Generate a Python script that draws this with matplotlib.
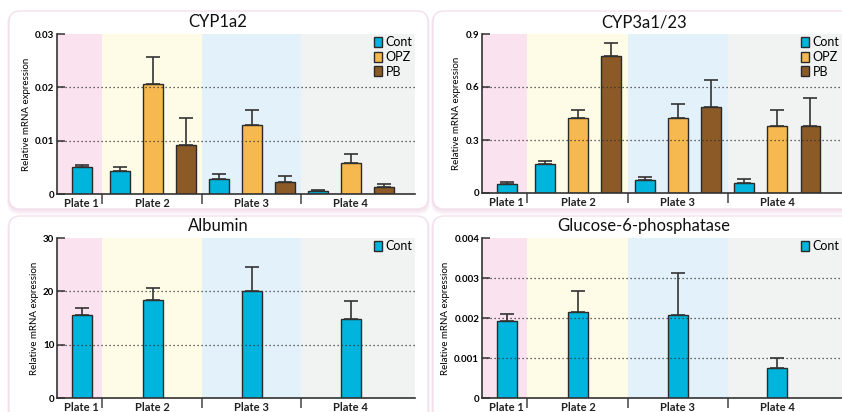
import matplotlib
matplotlib.use("Agg")
import matplotlib.pyplot as plt
from matplotlib.patches import FancyBboxPatch, Patch
import numpy as np

plt.rcParams["font.family"] = ["Lato", "DejaVu Sans"]

# data
plates = ["Plate 1", "Plate 2", "Plate 3", "Plate 4"]

cyp1a2_cont = [0.0050, 0.0043, 0.0029, 0.0006]
cyp1a2_cont_err = [0.0004, 0.0008, 0.0009, 0.0002]
cyp1a2_opz = [0.0206, 0.0130, 0.0059]  # plates 2-4
cyp1a2_opz_err = [0.0051, 0.0028, 0.0016]
cyp1a2_pb = [0.0091, 0.0023, 0.0013]
cyp1a2_pb_err = [0.0051, 0.0011, 0.0006]

cyp3a_cont = [0.053, 0.162, 0.075, 0.056]
cyp3a_cont_err = [0.007, 0.017, 0.013, 0.023]
cyp3a_opz = [0.427, 0.424, 0.379]
cyp3a_opz_err = [0.044, 0.079, 0.090]
cyp3a_pb = [0.774, 0.484, 0.379]
cyp3a_pb_err = [0.077, 0.153, 0.160]

alb_cont = [15.6, 18.3, 20.0, 14.9]
alb_cont_err = [1.2, 2.3, 4.6, 3.2]

g6p_cont = [0.00192, 0.00216, 0.00207, 0.00075]
g6p_cont_err = [0.00017, 0.00051, 0.00105, 0.00025]

# colours
C_CONT = "#00B5DD"
C_OPZ = "#F6B94F"
C_PB = "#8B5A27"
BANDS = ["#FAE3EE", "#FEFCE6", "#E2F1FA", "#F1F2F2"]

# slot positions (plate 1 has only one bar)
pos_p1 = -1.15
bounds = [-1.9, -0.55, 2.5, 5.5, 8.95]

fig = plt.figure(figsize=(8.42, 4.12), dpi=100)
bg = fig.add_axes([0, 0, 1, 1], zorder=0)
bg.set_xlim(0, 842)
bg.set_ylim(412, 0)
bg.axis("off")


def panel_box(x0, y0, x1, y1):
    # soft pink shadow (mostly below) then white rounded panel
    for k in range(5, 0, -1):
        g = FancyBboxPatch((x0 - k * 0.4, y0 + k * 0.2), x1 - x0 + k * 0.8, y1 - y0 + k * 0.9,
                           boxstyle="round,pad=0,rounding_size=12",
                           fc="#E4B4D0", ec="none", alpha=0.09)
        bg.add_patch(g)
    bg.add_patch(FancyBboxPatch((x0, y0), x1 - x0, y1 - y0,
                                boxstyle="round,pad=0,rounding_size=11",
                                fc="white", ec="#F3E0EB", lw=1.0))


panel_box(9, 11, 428, 209)
panel_box(433, 11, 860, 209)
panel_box(9, 216, 428, 430)
panel_box(433, 216, 860, 430)


def px_axes(l, t, r, b):
    return fig.add_axes([l / 842, 1 - b / 412, (r - l) / 842, (b - t) / 412], zorder=2)


def setup(ax, ymax, yticks, ylabels, title, tx, ty):
    for i in range(4):
        ax.axvspan(bounds[i], bounds[i + 1], color=BANDS[i], lw=0, zorder=0)
    ax.set_xlim(bounds[0], bounds[-1])
    ax.set_ylim(0, ymax)
    for yv in yticks[1:-1]:
        ax.axhline(yv, color="#333333", lw=0.9, ls=(0, (1, 2.2)), zorder=3)
    ax.set_yticks(yticks)
    ax.set_yticklabels(ylabels, fontsize=7, fontweight="bold")
    ax.tick_params(axis="y", direction="in", length=6, width=1.1, color="#333333", pad=2)
    ax.set_xticks([pos_p1, 1, 4, 7])
    ax.set_xticklabels(plates, fontsize=8, fontweight="bold", color="#222222")
    ax.tick_params(axis="x", which="major", length=0, pad=3)
    ax.set_xticks(bounds[1:4], minor=True)
    ax.tick_params(axis="x", which="minor", direction="out", length=7, width=1.1, color="#444444")
    for s in ["top", "right"]:
        ax.spines[s].set_visible(False)
    for s in ["left", "bottom"]:
        ax.spines[s].set_color("#333333")
        ax.spines[s].set_linewidth(1.2)
    ax.set_ylabel("Relative mRNA expression", fontsize=7, labelpad=3)
    bg.text(tx, ty, title, fontsize=12, ha="center", va="center", color="#111111")


def bars(ax, x, y, err, color):
    ax.bar(x, y, width=0.6, color=color, edgecolor="#2A2A2A", lw=1.0, zorder=2)
    ax.errorbar(x, y, yerr=[np.zeros(len(err)), err], fmt="none", ecolor="#333333",
                elinewidth=1.2, capsize=5, capthick=1.2, zorder=4)


def legend(ax, n):
    names = ["Cont", "OPZ", "PB"][:n]
    cols = [C_CONT, C_OPZ, C_PB][:n]
    hs = [Patch(fc=c, ec="#2A2A2A", lw=1.0) for c in cols]
    ax.legend(hs, names, loc="upper right", bbox_to_anchor=(1.0, 1.0), borderaxespad=0.1,
              borderpad=0.1, frameon=False, fontsize=9, handlelength=0.65, handleheight=0.85,
              handletextpad=0.3, labelspacing=0.2)


cont_x = [pos_p1, 0, 3, 6]
opz_x = [1, 4, 7]
pb_x = [2, 5, 8]
single_x = [pos_p1, 1, 4, 7]

# CYP1a2
ax1 = px_axes(57, 34, 415, 194)
setup(ax1, 0.03, [0, 0.01, 0.02, 0.03], ["0", "0.01", "0.02", "0.03"], "CYP1a2", 218, 22)
bars(ax1, cont_x, cyp1a2_cont, cyp1a2_cont_err, C_CONT)
bars(ax1, opz_x, cyp1a2_opz, cyp1a2_opz_err, C_OPZ)
bars(ax1, pb_x, cyp1a2_pb, cyp1a2_pb_err, C_PB)
legend(ax1, 3)

# CYP3a1/23
ax2 = px_axes(482, 34, 842, 193)
setup(ax2, 0.9, [0, 0.3, 0.6, 0.9], ["0", "0.3", "0.6", "0.9"], "CYP3a1/23", 644, 22)
bars(ax2, cont_x, cyp3a_cont, cyp3a_cont_err, C_CONT)
bars(ax2, opz_x, cyp3a_opz, cyp3a_opz_err, C_OPZ)
bars(ax2, pb_x, cyp3a_pb, cyp3a_pb_err, C_PB)
legend(ax2, 3)

# Albumin
ax3 = px_axes(57, 238, 415, 398)
setup(ax3, 30, [0, 10, 20, 30], ["0", "10", "20", "30"], "Albumin", 218, 226)
bars(ax3, single_x, alb_cont, alb_cont_err, C_CONT)
legend(ax3, 1)

# Glucose-6-phosphatase
ax4 = px_axes(482, 238, 842, 398)
setup(ax4, 0.004, [0, 0.001, 0.002, 0.003, 0.004], ["0", "0.001", "0.002", "0.003", "0.004"],
      "Glucose-6-phosphatase", 644, 226)
bars(ax4, single_x, g6p_cont, g6p_cont_err, C_CONT)
legend(ax4, 1)

fig.savefig("out.png", dpi=100)
